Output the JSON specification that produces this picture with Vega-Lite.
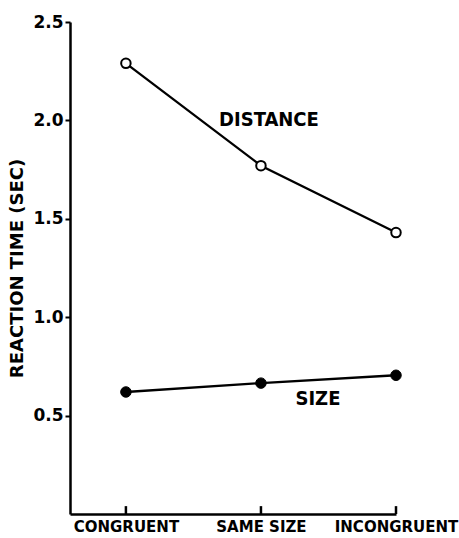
{
  "$schema": "https://vega.github.io/schema/vega-lite/v6.json",
  "autosize": "none",
  "padding": {"left": 70, "top": 22, "right": 63, "bottom": 24},
  "width": 326,
  "height": 492,
  "background": "white",
  "config": {"view": {"stroke": null}},
  "data": {
    "values": [
      {"condition": "CONGRUENT", "task": "DISTANCE", "rt": 2.29},
      {"condition": "SAME SIZE", "task": "DISTANCE", "rt": 1.77},
      {"condition": "INCONGRUENT", "task": "DISTANCE", "rt": 1.43},
      {"condition": "CONGRUENT", "task": "SIZE", "rt": 0.62},
      {"condition": "SAME SIZE", "task": "SIZE", "rt": 0.665},
      {"condition": "INCONGRUENT", "task": "SIZE", "rt": 0.705}
    ]
  },
  "encoding": {
    "x": {
      "field": "condition",
      "type": "ordinal",
      "sort": ["CONGRUENT", "SAME SIZE", "INCONGRUENT"],
      "scale": {"type": "point", "padding": 0.207, "align": 1},
      "axis": {
        "title": null,
        "labelAngle": 0,
        "labelFont": "DejaVu Sans",
        "labelFontWeight": "bold",
        "labelFontSize": 15,
        "labelColor": "black",
        "labelPadding": 5,
        "ticks": false,
        "domainColor": "black",
        "domainWidth": 2.5
      }
    },
    "y": {
      "field": "rt",
      "type": "quantitative",
      "scale": {"domain": [0, 2.5], "nice": false, "zero": true},
      "axis": {
        "title": "REACTION TIME (SEC)",
        "titleFont": "DejaVu Sans",
        "titleFontWeight": "bold",
        "titleFontSize": 18,
        "titleColor": "black",
        "titlePadding": 6,
        "values": [0.5, 1.0, 1.5, 2.0, 2.5],
        "format": ".1f",
        "grid": false,
        "labelFont": "DejaVu Sans",
        "labelFontWeight": "bold",
        "labelFontSize": 17,
        "labelColor": "black",
        "labelPadding": 2,
        "tickSize": 5,
        "tickWidth": 2,
        "tickColor": "black",
        "domainColor": "black",
        "domainWidth": 2.5
      }
    }
  },
  "layer": [
    {
      "transform": [{"filter": "datum.task === 'SIZE'"}],
      "mark": {"type": "rule", "color": "black", "strokeWidth": 2.5},
      "encoding": {"y": {"datum": 0}, "y2": {"datum": 0.04}}
    },
    {
      "mark": {"type": "line", "color": "black", "strokeWidth": 2.3},
      "encoding": {"detail": {"field": "task"}}
    },
    {
      "transform": [{"filter": "datum.task === 'DISTANCE'"}],
      "mark": {"type": "point", "shape": "circle", "filled": true, "fill": "white", "stroke": "black", "strokeWidth": 2, "size": 90, "opacity": 1}
    },
    {
      "transform": [{"filter": "datum.task === 'SIZE'"}],
      "mark": {"type": "point", "shape": "circle", "filled": true, "fill": "black", "stroke": "black", "strokeWidth": 1, "size": 110, "opacity": 1}
    },
    {
      "transform": [{"filter": "datum.task === 'DISTANCE' && datum.condition === 'SAME SIZE'"}],
      "mark": {"type": "text", "font": "DejaVu Sans Condensed", "fontWeight": "bold", "fontSize": 20, "color": "black", "dx": 8, "dy": -46},
      "encoding": {"text": {"field": "task"}}
    },
    {
      "transform": [{"filter": "datum.task === 'SIZE' && datum.condition === 'SAME SIZE'"}],
      "mark": {"type": "text", "font": "DejaVu Sans Condensed", "fontWeight": "bold", "fontSize": 20, "color": "black", "dx": 57, "dy": 16},
      "encoding": {"text": {"field": "task"}}
    }
  ]
}
